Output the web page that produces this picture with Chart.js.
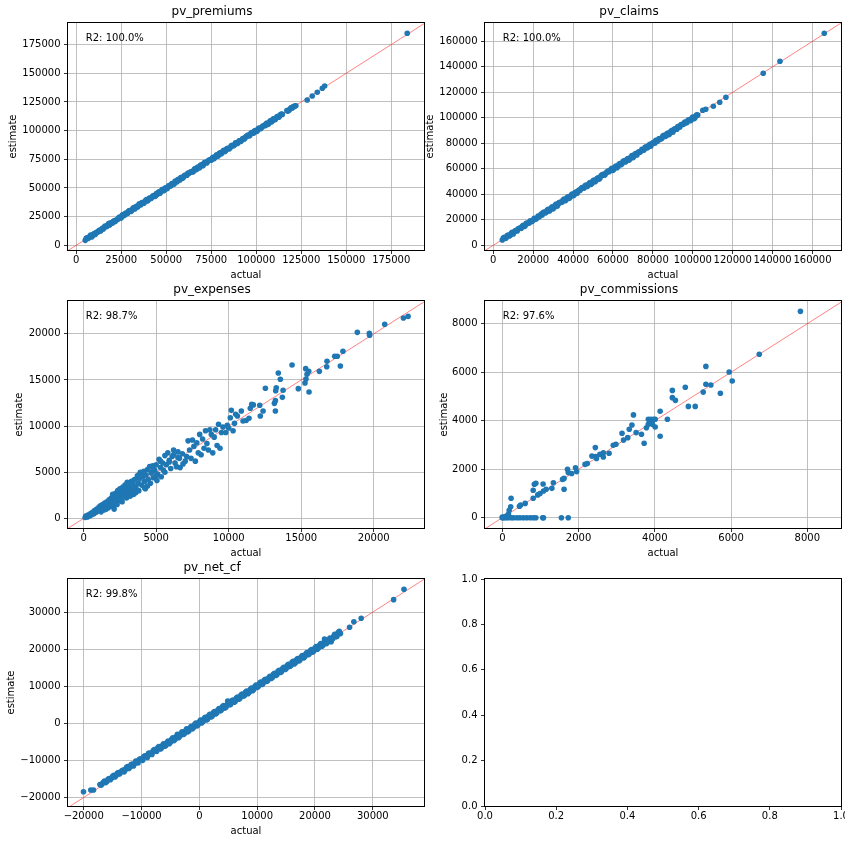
<!DOCTYPE html>
<html>
<head>
<meta charset="utf-8">
<script src="https://cdn.jsdelivr.net/npm/chart.js@4.4.1/dist/chart.umd.min.js"></script>
<style>
  body { margin: 0; background: #fff; width: 856px; height: 844px; position: relative; overflow: hidden; }
  canvas { position: absolute; }
</style>
</head>
<body>
<canvas id="c1" width="428" height="284" style="left:0;top:0"></canvas>
<canvas id="c2" width="428" height="284" style="left:417px;top:0"></canvas>
<canvas id="c3" width="428" height="284" style="left:0;top:278px"></canvas>
<canvas id="c4" width="428" height="284" style="left:417px;top:278px"></canvas>
<canvas id="c5" width="428" height="284" style="left:0;top:556px"></canvas>
<canvas id="c6" width="428" height="284" style="left:417px;top:556px"></canvas>
<script>
// pv_premiums
const premiumsActual = [
  5000, 6000, 7000, 8000, 9000, 10000, 11000, 12000, 13000, 14000,
  15000, 16000, 17000, 18000, 19000, 20000, 21000, 22000, 23000, 24000,
  25000, 26000, 27000, 28000, 29000, 30000, 31000, 32000, 33000, 34000,
  35000, 36000, 37000, 38000, 39000, 40000, 41000, 42000, 43000, 44000,
  45000, 46000, 47000, 48000, 49000, 50000, 51000, 52000, 53000, 54000,
  55000, 56000, 57000, 58000, 59000, 60000, 61000, 62000, 63000, 64000,
  65000, 66000, 67000, 68000, 69000, 70000, 71000, 72000, 73000, 74000,
  75000, 76000, 77000, 78000, 79000, 80000, 81000, 82000, 83000, 84000,
  85000, 86000, 87000, 88000, 89000, 90000, 91000, 92000, 93000, 94000,
  95000, 96000, 97000, 98000, 99000, 100000, 101000, 102000, 103000, 104000,
  105000, 106000, 107000, 108000, 109000, 110000, 111000, 112000, 113000, 114000,
  117000, 118000, 119000, 120000, 121000, 122000,
  128300, 131100, 133900, 136700, 138000, 183900,
  5500, 6500, 7500, 8500, 9500, 10500, 11500, 12500, 13500, 14500,
  15500, 16500, 17500, 18500, 19500, 20500, 21500, 22500, 23500, 24500,
  25500, 26500, 27500, 28500, 29500, 30500, 31500, 32500, 33500, 34500,
  35500, 36500, 37500, 38500, 39500, 40500, 41500, 42500, 43500, 44500,
  45500, 46500, 47500, 48500, 49500, 50500, 51500, 52500, 53500, 54500,
  55500, 56500, 57500, 58500, 59500, 60500, 61500, 62500, 63500, 64500,
  65500, 66500, 67500, 68500, 69500, 70500, 71500, 72500, 73500, 74500,
  75500, 76500, 77500, 78500, 79500, 80500, 81500, 82500, 83500, 84500,
  85500, 86500, 87500, 88500, 89500, 90500, 91500, 92500, 93500, 94500,
  95500, 96500, 97500, 98500, 99500, 100500, 101500, 102500, 103500, 104500,
  105500, 106500, 107500, 108500, 109500, 110500, 111500, 112500, 113500, 114500,
  117500, 118500, 119500, 120500, 121500
];
const premiumsEstimate = [
  4300, 6600, 6800, 8900, 8100, 10300, 11200, 11700, 13300, 13800,
  14200, 16800, 16600, 18900, 19700, 19200, 21400, 21900, 22500, 24700,
  24100, 26900, 26700, 27800, 29600, 30300, 30800, 32900, 33400, 33200,
  36100, 35500, 37300, 37700, 39900, 39400, 41200, 41800, 43400, 42900,
  44200, 46700, 46600, 48900, 48200, 50300, 51100, 51800, 53600, 53200,
  56000, 55300, 57600, 58900, 58400, 60600, 60900, 62800, 63200, 64400,
  64200, 66800, 66600, 67500, 69800, 69300, 71700, 71900, 73300, 74600,
  74100, 76700, 76500, 78900, 78300, 80600, 80800, 82900, 82400, 84500,
  84200, 86600, 86800, 87700, 89400, 89600, 91200, 91800, 92500, 94300,
  95700, 95300, 97600, 97800, 99500, 99300, 101400, 101700, 102600, 104200,
  104300, 106500, 106200, 108800, 108600, 110300, 110900, 112500, 112700, 114400,
  117500, 117600, 119200, 119800, 121100, 121600,
  126700, 130200, 133400, 136900, 138900, 184900,
  6100, 6000, 7900, 7300, 9600, 9500, 11300, 12600, 12400, 14900,
  15700, 15900, 17800, 17600, 19200, 20700, 20600, 22300, 23800, 23900,
  26200, 25900, 28100, 27700, 30200, 29600, 32300, 31700, 34100, 34600,
  35100, 37200, 36700, 39100, 38600, 41000, 40800, 42900, 42600, 45100,
  45900, 45400, 48100, 47600, 49900, 49400, 52000, 51600, 54100, 53700,
  55900, 57400, 56800, 59300, 59000, 61200, 61100, 62900, 63800, 63900,
  66100, 65900, 68200, 67700, 70100, 69600, 72300, 71700, 73900, 74200,
  75800, 75400, 77900, 77600, 80200, 79600, 82100, 81700, 83900, 84200,
  85100, 87200, 86900, 89300, 88700, 91200, 90600, 93100, 92800, 94900,
  96100, 95900, 98200, 97700, 100100, 99700, 102300, 101900, 103800, 104600,
  105900, 105400, 107800, 107600, 110200, 109500, 112100, 111600, 113900, 114100,
  117000, 118400, 120100, 120700, 121400
];
const premiumsTicks = [0, 25000, 50000, 75000, 100000, 125000, 150000, 175000];

// pv_claims
const claimsActual = [
  4500, 5500, 6500, 7500, 8500, 9500, 10500, 11500, 12500, 13500,
  14500, 15500, 16500, 17500, 18500, 19500, 20500, 21500, 22500, 23500,
  24500, 25500, 26500, 27500, 28500, 29500, 30500, 31500, 32500, 33500,
  34500, 35500, 36500, 37500, 38500, 39500, 40500, 41500, 42500, 43500,
  44500, 45500, 46500, 47500, 48500, 49500, 50500, 51500, 52500, 53500,
  54500, 55500, 56500, 57500, 58500, 59500, 60500, 61500, 62500, 63500,
  64500, 65500, 66500, 67500, 68500, 69500, 70500, 71500, 72500, 73500,
  74500, 75500, 76500, 77500, 78500, 79500, 80500, 81500, 82500, 83500,
  84500, 85500, 86500, 87500, 88500, 89500, 90500, 91500, 92500, 93500,
  94500, 95500, 96500, 97500, 98500, 99500, 100500, 101500, 102500,
  105000, 106500, 110300, 113500, 116600, 135300, 143700, 165900,
  5000, 6000, 7000, 8000, 9000, 10000, 11000, 12000, 13000, 14000,
  15000, 16000, 17000, 18000, 19000, 20000, 21000, 22000, 23000, 24000,
  25000, 26000, 27000, 28000, 29000, 30000, 31000, 32000, 33000, 34000,
  35000, 36000, 37000, 38000, 39000, 40000, 41000, 42000, 43000, 44000,
  45000, 46000, 47000, 48000, 49000, 50000, 51000, 52000, 53000, 54000,
  55000, 56000, 57000, 58000, 59000, 60000, 61000, 62000, 63000, 64000,
  65000, 66000, 67000, 68000, 69000, 70000, 71000, 72000, 73000, 74000,
  75000, 76000, 77000, 78000, 79000, 80000, 81000, 82000, 83000, 84000,
  85000, 86000, 87000, 88000, 89000, 90000, 91000, 92000, 93000, 94000,
  95000, 96000, 97000, 98000, 99000, 100000, 101000, 102000
];
const claimsEstimate = [
  4200, 6300, 5900, 8100, 7800, 10200, 10400, 11800, 13000, 13600,
  14900, 14700, 17200, 17100, 19300, 18800, 21100, 20800, 22900, 23200,
  23800, 26100, 25900, 28200, 27600, 30100, 29700, 32300, 31900, 33800,
  33900, 36200, 35800, 38100, 37700, 40200, 39500, 41800, 42500, 42900,
  45300, 44900, 47300, 46900, 49200, 48600, 51100, 50800, 52900, 52700,
  55200, 54900, 56800, 58200, 58700, 60400, 59900, 62200, 61800, 64100,
  63900, 66200, 65800, 68100, 67600, 70300, 69800, 71900, 72700, 73000,
  75200, 74800, 77300, 76900, 79200, 79700, 80800, 82300, 81900, 83800,
  83900, 86200, 85700, 88100, 87600, 89900, 90700, 91600, 93200, 92800,
  94900, 95100, 96200, 97800, 97900, 99600, 99200, 101400, 102100,
  105900, 106700, 109000, 112200, 116100, 134900, 144300, 166300,
  5600, 5400, 7600, 7300, 9500, 8900, 11400, 11200, 13400, 13300,
  15600, 15300, 17400, 17600, 18600, 19700, 20500, 21600, 22400, 24500,
  25600, 25300, 27400, 26800, 29300, 28600, 31400, 30700, 33500, 33700,
  35400, 34900, 37500, 36800, 39300, 38900, 41400, 40900, 43300, 44600,
  44700, 46600, 46200, 48400, 47800, 50600, 49900, 52400, 51800, 54500,
  55700, 55300, 57400, 57700, 59600, 58800, 61400, 60900, 63500, 63200,
  65600, 65300, 67500, 66800, 69300, 68700, 71500, 70900, 73400, 73700,
  74600, 76700, 76300, 78500, 77800, 80400, 80100, 81600, 83500, 83300,
  85600, 85300, 87400, 86800, 89500, 88700, 91400, 91100, 92600, 94600,
  94700, 96600, 96200, 98400, 97800, 100500, 99900, 102400
];
const claimsTicks = [0, 20000, 40000, 60000, 80000, 100000, 120000, 140000, 160000];

// pv_expenses
const expensesActual = [
  100, 150, 250, 300, 400, 450, 550, 600, 700, 750,
  850, 900, 950, 1050, 1100, 1150, 1200, 1250, 1300, 1350,
  1400, 1450, 1500, 1550, 1600, 1650, 1700, 1750, 1800, 1850,
  1900, 1950, 2000, 2050, 2100, 2150, 2200, 2250, 2300, 2350,
  2400, 2450, 2500, 2550, 2600, 2650, 2700, 2750, 2800, 2850,
  2900, 2950, 3000, 3100, 3150, 3200, 3300, 3350, 3400, 3450,
  3500, 3600, 3700, 3750, 3800, 3850, 3900, 4000, 4050, 4150,
  4200, 4250, 4300, 4400, 4450, 4550, 4600, 4650, 4750, 4800,
  4900, 5000, 5050, 5100, 5200, 5300, 5350, 5450, 5500, 5600,
  5700, 5800, 5900, 6000, 6100, 6200, 6300, 6400, 6500, 6600,
  6650, 6800, 6850, 7000, 7100, 7200, 7300, 7400, 7500, 7600,
  7700, 7800, 7900, 8000, 8100, 8200, 8300, 8400, 8500, 8600,
  8700, 8800, 8900, 9000, 9100, 9200, 9300, 9400, 9500, 9600,
  9800, 9900, 10000, 10110, 10180, 10300, 10400, 10480, 10600, 10870,
  10990, 11200, 11400, 11490, 11590, 11700, 12140, 12180, 12370, 12530,
  13150, 13220, 13220, 13240, 13280, 13420, 13560, 13700, 13750, 14370,
  14800, 15260, 15330, 15400, 15310, 15520, 15540, 16250, 16760, 16780,
  17310, 17490, 17700, 17880, 18870, 19720, 19700, 20760, 22050, 22370,
  2000, 2300, 2600, 2900, 3200, 3500, 3800, 4100, 4400, 4700,
  5000, 5300, 5600, 5900, 6200, 6500, 3000, 3600, 4200, 4800
];
const expensesEstimate = [
  80, 250, 150, 350, 250, 500, 380, 650, 500, 850,
  650, 1000, 780, 1200, 900, 1350, 700, 1100, 1500, 1200,
  900, 1650, 1300, 1000, 1800, 1500, 1150, 2000, 1600, 1300,
  2200, 1800, 1400, 2400, 1000, 2000, 2700, 1700, 2300, 3000,
  1900, 2600, 3200, 2200, 2900, 1800, 3400, 2500, 3100, 3600,
  2700, 2200, 3300, 3700, 2900, 3500, 4000, 3100, 3700, 2600,
  4200, 3400, 4600, 3800, 3000, 4300, 5000, 3600, 4500, 5100,
  4000, 3200, 4700, 5300, 4200, 5600, 3800, 4900, 5700, 4400,
  5200, 5800, 4100, 4800, 6400, 5500, 4500, 6000, 5200, 6800,
  5800, 7100, 6300, 5400, 6700, 7400, 6000, 5600, 7200, 6500,
  5500, 7000, 5900, 6200, 6700, 8400, 7400, 6500, 8500, 7800,
  6200, 8200, 7100, 9100, 6900, 8600, 7600, 9500, 8100, 7400,
  9600, 9100, 7100, 8800, 9600, 7900, 10200, 7600, 9300, 9900,
  9300, 10100, 9800, 10910, 11710, 9500, 10300, 11280, 11100, 11640,
  10550, 10600, 10850, 11930, 12360, 12300, 12260, 11100, 11640, 14100,
  12470, 12760, 11640, 13840, 14160, 15760, 15080, 13120, 13880, 16630,
  14060, 14680, 15110, 15620, 16230, 15940, 13700, 15940, 16440, 17030,
  17570, 17570, 16520, 18110, 20170, 19850, 20060, 21040, 21720, 21900,
  2600, 1500, 2000, 3500, 2400, 3000, 4700, 4600, 3500, 5000,
  4600, 6200, 5000, 6100, 6900, 6600, 3900, 2800, 3300, 5400
];
const expensesTicks = [0, 5000, 10000, 15000, 20000];

// pv_commissions
const commissionsActual = [
  0, 30, 90, 150, 230, 290, 380, 460, 550, 640,
  730, 810, 880, 1060, 1080, 1550, 1730, 0, 60, 120,
  160, 180, 220, 230, 450, 480, 600, 810, 810, 840,
  880, 930, 990, 1080, 1150, 1070, 1300, 1340, 1580, 1620,
  1620, 1730, 1710, 1820, 1920, 1950, 2170, 2230, 2350, 2450,
  2470, 2560, 2650, 2650, 2440, 2800, 2910, 2980, 3140, 3180,
  3290, 3330, 3400, 3440, 3510, 3650, 3720, 3780, 3830, 3830,
  3900, 3920, 3940, 3970, 4010, 4010, 4140, 4140, 4330, 4460,
  4460, 4540, 4800, 4880, 5060, 5270, 5340, 5340, 5470, 5720,
  5950, 6030, 6740, 7820
];
const commissionsEstimate = [
  0, 0, 0, 0, 0, 0, 0, 0, 0, 0,
  0, 0, 0, 0, 0, 0, 0, 30, 40, 80,
  140, 300, 450, 800, 470, 520, 590, 800, 1130, 1380,
  1420, 940, 1000, 1100, 1170, 1390, 1210, 1440, 1580, 1620,
  1170, 1860, 2000, 1820, 2060, 1900, 2200, 2230, 2540, 2520,
  2440, 2610, 2680, 2500, 2890, 2660, 2990, 3030, 3480, 3200,
  3300, 3650, 3820, 4240, 3510, 3440, 3070, 3710, 3850, 4060,
  4060, 3950, 3850, 4060, 3740, 4060, 3360, 4390, 4060, 4950,
  5250, 4840, 5380, 4590, 4590, 5180, 5500, 6240, 5470, 5130,
  6010, 5640, 6740, 8510
];
const commissionsTicks = [0, 2000, 4000, 6000, 8000];

// pv_net_cf
const netCfActual = [
  -17200, -16800, -16400, -16000, -15600, -15200, -14800, -14400, -14000, -13600,
  -13200, -12800, -12400, -12000, -11600, -11200, -10800, -10400, -10000, -9600,
  -9200, -8800, -8400, -8000, -7600, -7200, -6800, -6400, -6000, -5600,
  -5200, -4800, -4400, -4000, -3600, -3200, -2800, -2400, -2000, -1600,
  -1200, -800, -400, 0, 400, 800, 1200, 1600, 2000, 2400,
  2800, 3200, 3600, 4000, 4400, 4800, 5200, 5600, 6000, 6400,
  6800, 7200, 7600, 8000, 8400, 8800, 9200, 9600, 10000, 10400,
  10800, 11200, 11600, 12000, 12400, 12800, 13200, 13600, 14000, 14400,
  14800, 15200, 15600, 16000, 16400, 16800, 17200, 17600, 18000, 18400,
  18800, 19200, 19600, 20000, 20400, 20800, 21200, 21600, 22000, 22400,
  22800, 23200, 23600, 24000, 24400,
  -20040, -18780, -18310, 4900, 21650, 22790, 25980, 26720, 27990, 33600, 35390,
  -17000, -16600, -16200, -15800, -15400, -15000, -14600, -14200, -13800, -13400,
  -13000, -12600, -12200, -11800, -11400, -11000, -10600, -10200, -9800, -9400,
  -9000, -8600, -8200, -7800, -7400, -7000, -6600, -6200, -5800, -5400,
  -5000, -4600, -4200, -3800, -3400, -3000, -2600, -2200, -1800, -1400,
  -1000, -600, -200, 200, 600, 1000, 1400, 1800, 2200, 2600,
  3000, 3400, 3800, 4200, 4600, 5000, 5400, 5800, 6200, 6600,
  7000, 7400, 7800, 8200, 8600, 9000, 9400, 9800, 10200, 10600,
  11000, 11400, 11800, 12200, 12600, 13000, 13400, 13800, 14200, 14600,
  15000, 15400, 15800, 16200, 16600, 17000, 17400, 17800, 18200, 18600,
  19000, 19400, 19800, 20200, 20600, 21000, 21400, 21800, 22200, 22600,
  23000, 23400, 23800, 24200
];
const netCfEstimate = [
  -16500, -16300, -15600, -15700, -14900, -14800, -14000, -14100, -13300, -13200,
  -12600, -12500, -11700, -11800, -11000, -10900, -10300, -9800, -9700, -9000,
  -8900, -8100, -8300, -7400, -7500, -6600, -6900, -6000, -6200, -5200,
  -5500, -4300, -4700, -3600, -3900, -2800, -3000, -2000, -2300, -1200,
  -1500, -300, -700, 400, 100, 1200, 900, 2000, 1700, 2800,
  2500, 3600, 3300, 4500, 4100, 5000, 5000, 6100, 5700, 6800,
  6500, 7600, 7300, 8400, 8000, 9100, 8800, 9900, 9700, 10800,
  10500, 11600, 11300, 12300, 12100, 13200, 12900, 14000, 13700, 14800,
  14500, 15600, 15300, 16400, 16000, 17100, 16800, 17900, 17600, 18700,
  18500, 19600, 19200, 20300, 20000, 21100, 20800, 21900, 21500, 22600,
  22500, 23400, 23300, 24500, 24200,
  -18450, -18000, -18000, 6000, 22740, 22020, 25900, 27410, 28330, 33350, 36150,
  -16700, -15900, -16000, -15100, -15200, -14300, -14500, -13500, -13700, -12800,
  -13100, -11900, -12200, -11100, -11500, -10200, -10700, -9600, -10000, -8800,
  -9200, -8000, -8400, -7100, -7600, -6300, -6800, -5500, -6000, -4800,
  -5100, -3900, -4300, -3000, -3500, -2300, -2800, -1500, -2000, -800,
  -1100, 100, -300, 900, 400, 1600, 1100, 2400, 1900, 3200,
  2800, 4000, 3600, 4800, 4300, 5600, 5100, 6300, 5900, 7100,
  6700, 7900, 7500, 8700, 8300, 9500, 9100, 10300, 9900, 11100,
  10700, 11900, 11500, 12700, 12300, 13500, 13100, 14300, 13900, 15100,
  14700, 15900, 15500, 16700, 16300, 17500, 17100, 18300, 17900, 19100,
  18700, 19900, 19500, 20700, 20300, 21500, 21100, 22300, 21900, 23000,
  22700, 24000, 23500, 24800
];
const netCfTicks = [-20000, -10000, 0, 10000, 20000, 30000];

// empty sixth axes
const emptyTicks = [0, 0.2, 0.4, 0.6, 0.8, 1];

Chart.defaults.font.family = '"DejaVu Sans", sans-serif';
Chart.defaults.font.size = 10;
Chart.defaults.color = '#000';

const fmtInt = v => (v < 0 ? '\u2212' : '') + Math.abs(v);
const fmtFrac = v => v.toFixed(1);

// axes frame + R2 note
const framePlugin = {
  id: 'frame',
  afterDraw(chart, args, opts) {
    const { ctx, chartArea: a } = chart;
    ctx.save();
    ctx.strokeStyle = '#000';
    ctx.lineWidth = 1;
    ctx.strokeRect(Math.round(a.left) - 0.5, Math.round(a.top) - 0.5,
      Math.round(a.right - a.left) + 1, Math.round(a.bottom - a.top) + 1);
    if (opts.note) {
      ctx.fillStyle = '#000';
      ctx.font = '10px "DejaVu Sans"';
      ctx.textBaseline = 'middle';
      ctx.fillText(opts.note, a.left + 0.05 * (a.right - a.left), a.top + 0.07 * (a.bottom - a.top));
    }
    ctx.restore();
  }
};

function makeChart(id, p) {
  const datasets = [];
  if (p.actual) {
    const lo = Math.min(p.xLim[0], p.yLim[0]);
    const hi = Math.max(p.xLim[1], p.yLim[1]);
    datasets.push({
      type: 'scatter',
      data: p.actual.map((v, i) => ({ x: v, y: p.estimate[i] })),
      backgroundColor: '#1f77b4',
      borderWidth: 0,
      pointRadius: 2.8,
      clip: 0
    });
    datasets.push({
      type: 'line',
      data: [{ x: lo, y: lo }, { x: hi, y: hi }],
      borderColor: 'rgba(255,0,0,0.55)',
      borderWidth: 0.9,
      pointRadius: 0,
      clip: 0
    });
  }
  const gridColor = p.grid ? '#b0b0b0' : 'rgba(0,0,0,0)';
  const setTicks = s => { s.ticks = p.ticks.map(v => ({ value: v })); };
  new Chart(document.getElementById(id), {
    type: 'scatter',
    data: { datasets },
    plugins: [framePlugin],
    options: {
      responsive: false,
      animation: false,
      events: [],
      layout: { padding: { top: p.title ? 0 : 23, right: 4, left: 0, bottom: 0 } },
      plugins: {
        legend: { display: false },
        tooltip: { enabled: false },
        title: {
          display: !!p.title,
          text: p.title,
          color: '#000',
          font: { size: 12, weight: 'normal' },
          padding: { top: 5, bottom: 3.6 }
        },
        frame: { note: p.note }
      },
      scales: {
        x: {
          type: 'linear', min: p.xLim[0], max: p.xLim[1], z: 1,
          afterBuildTicks: setTicks,
          afterFit: s => { s.height = 34; s.paddingLeft = 0; s.paddingRight = 0; },
          border: { display: false },
          grid: { color: gridColor, lineWidth: 0.8, tickLength: 4, tickColor: '#000', tickWidth: 0.8 },
          ticks: { padding: 0, maxRotation: 0, minRotation: 0, autoSkip: false, callback: p.fmt },
          title: { display: !!p.title, text: 'actual', padding: { top: 0, bottom: 3 } }
        },
        y: {
          type: 'linear', min: p.yLim[0], max: p.yLim[1], z: 1,
          afterBuildTicks: setTicks,
          afterFit: s => { s.width = 68; s.paddingTop = 0; s.paddingBottom = 0; },
          border: { display: false },
          grid: { color: gridColor, lineWidth: 0.8, tickLength: 4, tickColor: '#000', tickWidth: 0.8 },
          ticks: { padding: 3.5, autoSkip: false, callback: p.fmt },
          title: { display: !!p.title, text: 'estimate', padding: { top: p.yPad, bottom: 0 } }
        }
      }
    }
  });
}

makeChart('c1', { title: 'pv_premiums', note: 'R2: 100.0%', actual: premiumsActual, estimate: premiumsEstimate,
  xLim: [-4600, 193200], yLim: [-4100, 193800], ticks: premiumsTicks, yPad: 7.3, grid: true, fmt: fmtInt });
makeChart('c2', { title: 'pv_claims', note: 'R2: 100.0%', actual: claimsActual, estimate: claimsEstimate,
  xLim: [-4160, 174290], yLim: [-3690, 174350], ticks: claimsTicks, yPad: 7.7, grid: true, fmt: fmtInt });
makeChart('c3', { title: 'pv_expenses', note: 'R2: 98.7%', actual: expensesActual, estimate: expensesEstimate,
  xLim: [-1083, 23469], yLim: [-1052, 23568], ticks: expensesTicks, yPad: 13.5, grid: true, fmt: fmtInt });
makeChart('c4', { title: 'pv_commissions', note: 'R2: 97.6%', actual: commissionsActual, estimate: commissionsEstimate,
  xLim: [-454, 8884], yLim: [-425, 8936], ticks: commissionsTicks, yPad: 21, grid: true, fmt: fmtInt });
makeChart('c5', { title: 'pv_net_cf', note: 'R2: 99.8%', actual: netCfActual, estimate: netCfEstimate,
  xLim: [-22720, 38853], yLim: [-22309, 38926], ticks: netCfTicks, yPad: 5.3, grid: true, fmt: fmtInt });
makeChart('c6', { xLim: [0, 1], yLim: [0, 1], ticks: emptyTicks, grid: false, fmt: fmtFrac });
</script>
</body>
</html>
